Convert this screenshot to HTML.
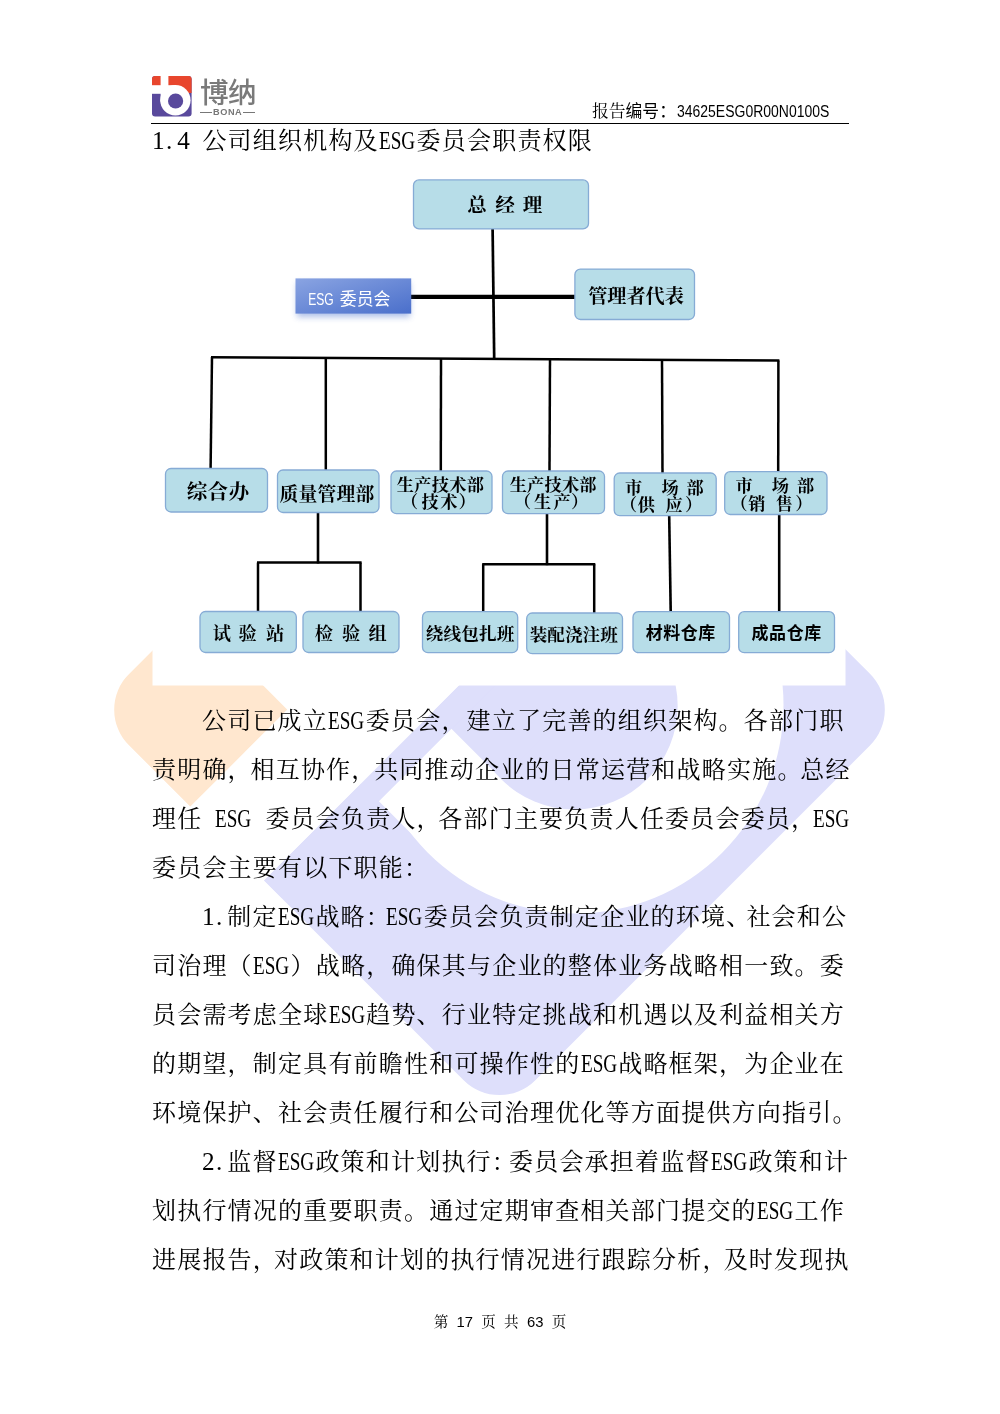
<!DOCTYPE html>
<html lang="zh-CN"><head><meta charset="utf-8"><title>ESG报告 第17页</title>
<style>
html,body{margin:0;padding:0;background:#fff;}
body{width:1000px;height:1414px;position:relative;overflow:hidden;font-family:"Liberation Serif","Noto Serif CJK SC",serif;color:#000;}
svg{position:absolute;left:0;top:0;}
.wm{z-index:0;}
.chart{z-index:1;will-change:transform;}
.chart text.bs{font-family:"Liberation Serif","Noto Serif CJK SC",serif;font-weight:700;}
.chart text.bh{font-family:"Liberation Sans","Noto Sans CJK SC",sans-serif;font-weight:700;}
.chart text.es{font-family:"Liberation Sans","Noto Sans CJK SC",sans-serif;font-weight:400;}
.ln{position:absolute;z-index:2;height:40px;line-height:40px;font-size:24.0px;white-space:nowrap;font-weight:400;will-change:transform;}
.ln .l,.ln .sp{display:inline-block;letter-spacing:0;height:40px;vertical-align:top;white-space:pre;font-size:25.2px;}
.ln .l b{display:inline-block;font-weight:400;transform-origin:0 50%;white-space:nowrap;margin-left:0.2px;}
.ln .d i{display:inline-block;font-style:normal;text-align:center;}
.ln .d i.dot{text-align:left;text-indent:1.5px;}
.ln .p{margin-right:var(--pm);}
.logo{left:152px;top:76.3px;z-index:2;}
.brand{position:absolute;left:199.8px;top:74.6px;width:56px;height:36px;line-height:36px;font-family:"Liberation Sans","Noto Sans CJK SC",sans-serif;font-weight:500;font-size:28.6px;color:#7a7a7a;white-space:nowrap;letter-spacing:-0.5px;z-index:2;will-change:transform;}
.bona{position:absolute;left:200.2px;top:106.6px;width:54.8px;height:11px;line-height:11px;font-family:"Liberation Sans",sans-serif;font-weight:700;font-size:9.2px;letter-spacing:0.55px;text-indent:0.55px;color:#777;text-align:center;white-space:nowrap;z-index:2;will-change:transform;}
.bona:before,.bona:after{content:"";position:absolute;top:5.1px;width:11.8px;height:1.1px;background:#777;}
.bona:before{left:0;} .bona:after{right:0;}
.rpt{position:absolute;left:592px;top:100.4px;height:24px;line-height:24px;font-size:16.8px;white-space:nowrap;z-index:2;will-change:transform;}
.rpt .h{font-family:"Liberation Sans","Noto Sans CJK SC",sans-serif;}
.rpt .n{display:inline-block;font-family:"Liberation Sans","Noto Sans CJK SC",sans-serif;transform-origin:0 50%;}
.hline{position:absolute;left:151px;top:122.6px;width:697.5px;height:1.3px;background:#000;z-index:2;}
.foot{position:absolute;left:400px;width:200px;top:1311px;height:22px;line-height:22px;text-align:center;font-size:14.6px;white-space:pre;z-index:2;will-change:transform;word-spacing:4.6px;}
.foot span{font-family:"Liberation Sans",sans-serif;font-size:14.8px;}
</style></head>
<body>
<svg class="wm" width="1000" height="1414" viewBox="0 0 1000 1414">
<defs><clipPath id="sq"><rect x="-287.3" y="-287.3" width="574.6" height="574.6" rx="50.7" ry="50.7"/></clipPath></defs>
<g transform="translate(499.5 709.7) rotate(-45)">
<rect x="-287.3" y="-287.3" width="574.6" height="574.6" rx="50.7" ry="50.7" fill="#dedffb"/>
<rect x="-317.3" y="-317.3" width="269.8" height="271.6" fill="#fff"/>
<rect x="-150.0" y="-317.3" width="102.5" height="367.4" fill="#fff"/>
<rect x="-287.3" y="-287.3" width="137.3" height="137.3" fill="#ffe7cf" clip-path="url(#sq)"/>
<rect x="-317.3" y="-150.0" width="374.0" height="104.3" fill="#fff"/>
<circle cx="56.7" cy="50.1" r="208.5" fill="#fff"/>
<circle cx="55.5" cy="50.1" r="103.5" fill="#dedffb"/>
<rect x="-47.5" y="-45.7" width="103.0" height="95.8" fill="#dedffb"/>
<rect x="-287.3" y="-45.7" width="342.8" height="25.2" fill="#dedffb" clip-path="url(#sq)"/>
</g>
<rect x="152.5" y="150" width="693" height="535.5" fill="#fff"/>
</svg>
<svg class="chart" width="1000" height="1414" viewBox="0 0 1000 1414">
<defs><linearGradient id="eg" x1="0" y1="0" x2="1" y2="1"><stop offset="0" stop-color="#8aa4e2"/><stop offset="1" stop-color="#4a6fcb"/></linearGradient>
<filter id="sh" x="-20%" y="-40%" width="140%" height="200%"><feGaussianBlur stdDeviation="3.2"/></filter></defs>
<line x1="492.6" y1="229" x2="494.2" y2="358.5" stroke="#000" stroke-width="2.7"/>
<line x1="411" y1="296.8" x2="575" y2="296.8" stroke="#000" stroke-width="4.2"/>
<line x1="211" y1="357.2" x2="779.4" y2="360.6" stroke="#000" stroke-width="2.5"/>
<line x1="212" y1="357" x2="210.6" y2="468.5" stroke="#000" stroke-width="2.5"/>
<line x1="325.8" y1="357.6" x2="325.8" y2="470" stroke="#000" stroke-width="2.5"/>
<line x1="441" y1="358.3" x2="440.8" y2="471" stroke="#000" stroke-width="2.5"/>
<line x1="550" y1="359" x2="549.5" y2="471" stroke="#000" stroke-width="2.5"/>
<line x1="662" y1="359.8" x2="662.5" y2="473" stroke="#000" stroke-width="2.5"/>
<line x1="778.4" y1="360.4" x2="778.2" y2="472" stroke="#000" stroke-width="2.5"/>
<line x1="318" y1="513" x2="318" y2="563.5" stroke="#000" stroke-width="2.6"/>
<line x1="257" y1="562.6" x2="361.6" y2="562.6" stroke="#000" stroke-width="2.5"/>
<line x1="258" y1="562.6" x2="258" y2="611.5" stroke="#000" stroke-width="2.5"/>
<line x1="360.5" y1="562.6" x2="360.5" y2="611.5" stroke="#000" stroke-width="2.5"/>
<line x1="547" y1="514" x2="547" y2="565.2" stroke="#000" stroke-width="2.6"/>
<line x1="482.2" y1="564.2" x2="595.3" y2="564.2" stroke="#000" stroke-width="2.5"/>
<line x1="483.2" y1="564.2" x2="483.2" y2="611.5" stroke="#000" stroke-width="2.5"/>
<line x1="594.2" y1="564.2" x2="594.2" y2="613" stroke="#000" stroke-width="2.5"/>
<line x1="669.2" y1="516" x2="670.7" y2="611.5" stroke="#000" stroke-width="2.6"/>
<line x1="779.2" y1="515" x2="779.2" y2="611.5" stroke="#000" stroke-width="2.6"/>
<rect x="413.5" y="179.9" width="175.0" height="49.0" rx="5.5" fill="#b7dde8" stroke="#86abd5" stroke-width="1.3"/>
<rect x="574.9" y="269.1" width="119.6" height="50.4" rx="5.5" fill="#b7dde8" stroke="#86abd5" stroke-width="1.3"/>
<rect x="165.5" y="468.5" width="102.0" height="43.5" rx="5.5" fill="#b7dde8" stroke="#86abd5" stroke-width="1.3"/>
<rect x="277.5" y="470.0" width="101.5" height="42.5" rx="5.5" fill="#b7dde8" stroke="#86abd5" stroke-width="1.3"/>
<rect x="391.0" y="471.0" width="101.0" height="42.7" rx="5.5" fill="#b7dde8" stroke="#86abd5" stroke-width="1.3"/>
<rect x="502.5" y="471.0" width="102.0" height="42.7" rx="5.5" fill="#b7dde8" stroke="#86abd5" stroke-width="1.3"/>
<rect x="614.2" y="473.0" width="102.0" height="42.7" rx="5.5" fill="#b7dde8" stroke="#86abd5" stroke-width="1.3"/>
<rect x="724.7" y="471.7" width="102.3" height="42.8" rx="5.5" fill="#b7dde8" stroke="#86abd5" stroke-width="1.3"/>
<rect x="200.0" y="611.5" width="96.3" height="41.0" rx="5.5" fill="#b7dde8" stroke="#86abd5" stroke-width="1.3"/>
<rect x="303.0" y="611.5" width="96.0" height="41.0" rx="5.5" fill="#b7dde8" stroke="#86abd5" stroke-width="1.3"/>
<rect x="422.5" y="611.7" width="95.2" height="41.0" rx="5.5" fill="#b7dde8" stroke="#86abd5" stroke-width="1.3"/>
<rect x="526.7" y="613.0" width="95.8" height="40.7" rx="5.5" fill="#b7dde8" stroke="#86abd5" stroke-width="1.3"/>
<rect x="633.0" y="611.7" width="96.5" height="41.0" rx="5.5" fill="#b7dde8" stroke="#86abd5" stroke-width="1.3"/>
<rect x="738.7" y="611.7" width="95.8" height="41.0" rx="5.5" fill="#b7dde8" stroke="#86abd5" stroke-width="1.3"/>
<text class="bs" x="477.0 491.0 505.0 518.8 532.5" y="205.2" font-size="19.6" text-anchor="middle" dominant-baseline="central" xml:space="preserve">总 经 理</text>
<text class="bs" x="597.8 616.9 636.0 655.2 674.3" y="296.2" font-size="19.2" text-anchor="middle" dominant-baseline="central" xml:space="preserve">管理者代表</text>
<text class="bs" x="197.0 217.9 238.8" y="492.2" font-size="20.6" text-anchor="middle" dominant-baseline="central" xml:space="preserve">综合办</text>
<text class="bs" x="289.0 307.9 326.9 345.9 364.8" y="494.2" font-size="18.8" text-anchor="middle" dominant-baseline="central" xml:space="preserve">质量管理部</text>
<text class="bs" x="405.3 422.8 440.4 457.9 475.4" y="485.7" font-size="17.2" text-anchor="middle" dominant-baseline="central" xml:space="preserve">生产技术部</text>
<text class="bs" x="409.5 430.0 448.8 467.0" y="502.2" font-size="17.2" text-anchor="middle" dominant-baseline="central" xml:space="preserve">（技术）</text>
<text class="bs" x="518.3 535.7 553.1 570.5 587.9" y="485.7" font-size="17.2" text-anchor="middle" dominant-baseline="central" xml:space="preserve">生产技术部</text>
<text class="bs" x="522.5 542.5 562.0 579.5" y="502.2" font-size="17.2" text-anchor="middle" dominant-baseline="central" xml:space="preserve">（生产）</text>
<text class="bs" x="633.7 651.9 670.0 682.6 695.2" y="488.2" font-size="17.2" text-anchor="middle" dominant-baseline="central" xml:space="preserve">市 场 部</text>
<text class="bs" x="628.7 646.4 660.2 674.0 693.5" y="505.5" font-size="17.2" text-anchor="middle" dominant-baseline="central" xml:space="preserve">（供 应）</text>
<text class="bs" x="744.2 762.3 780.4 793.0 805.7" y="486.5" font-size="17.2" text-anchor="middle" dominant-baseline="central" xml:space="preserve">市 场 部</text>
<text class="bs" x="739.1 756.8 770.6 784.4 803.8" y="504.2" font-size="17.2" text-anchor="middle" dominant-baseline="central" xml:space="preserve">（销 售）</text>
<text class="bs" x="221.8 234.7 247.5 261.2 275.0" y="633.7" font-size="18.2" text-anchor="middle" dominant-baseline="central" xml:space="preserve">试 验 站</text>
<text class="bs" x="323.8 337.5 351.2 364.4 377.5" y="633.7" font-size="18.2" text-anchor="middle" dominant-baseline="central" xml:space="preserve">检 验 组</text>
<text class="bs" x="434.5 452.2 470.0 487.8 505.5" y="633.7" font-size="17.6" text-anchor="middle" dominant-baseline="central" xml:space="preserve">绕线包扎班</text>
<text class="bs" x="538.5 556.1 573.8 591.4 609.0" y="634.9" font-size="17.6" text-anchor="middle" dominant-baseline="central" xml:space="preserve">装配浇注班</text>
<text class="bh" x="654.2 671.7 689.3 706.8" y="633.7" font-size="17.0" text-anchor="middle" dominant-baseline="central" xml:space="preserve">材料仓库</text>
<text class="bh" x="759.9 777.5 795.2 812.8" y="633.7" font-size="17.0" text-anchor="middle" dominant-baseline="central" xml:space="preserve">成品仓库</text>
<rect x="297" y="283" width="113" height="34" fill="#4a6fcb" opacity="0.45" filter="url(#sh)"/>
<rect x="295.5" y="278.4" width="115.7" height="35.2" fill="url(#eg)"/>
<text class="es" transform="translate(308.2 299.8) scale(0.76 1)" x="0" y="0" font-size="15.9" dominant-baseline="central" fill="#fff">ESG</text>
<text class="es" x="339.8" y="299.4" font-size="16.9" font-weight="300" dominant-baseline="central" fill="#fff">委员会</text>
</svg>
<svg class="logo" width="40" height="41" viewBox="0 0 40 41">
<defs><clipPath id="lg"><rect x="0" y="0" width="39.6" height="40.4" rx="3.2"/></clipPath></defs>
<g clip-path="url(#lg)">
<rect x="0" y="0" width="40" height="41" fill="#59499c"/>
<rect x="0" y="0" width="40" height="17" fill="#e8462d"/>
<rect x="8.6" y="0" width="7.8" height="26" fill="#fff"/>
<rect x="0" y="9.2" width="24" height="8.6" fill="#fff"/>
<circle cx="23.4" cy="24.2" r="15.2" fill="#fff"/>
<circle cx="23.6" cy="25" r="7.6" fill="#59499c"/>
</g></svg>
<div class="brand">博纳</div>
<div class="bona">BONA</div>
<div class="rpt">报告<span class="h">编号：</span><span class="n" style="transform:scaleX(0.833);margin-left:1px">34625ESG0R00N0100S</span></div>
<div class="hline"></div>
<div class="ln h1" id="L0" style="top:121.3px;left:151.60px;letter-spacing:1.200px;"><span class="l d" style="width:37.80px"><i style="width:33.333%">1</i><i class="dot" style="width:33.333%">.</i><i style="width:33.333%">4</i></span><span class="sp" style="width:12.60px"> </span>公司组织机构及<span class="l" style="width:37.80px"><b style="transform:scaleX(0.7605)">ESG</b></span>委员会职责权限</div>
<div class="ln" id="L1" style="top:700.5px;left:202.00px;letter-spacing:1.200px;">公司已成立<span class="l" style="width:37.80px"><b style="transform:scaleX(0.7605)">ESG</b></span>委员会，建立了完善的组织架构。各部门职</div>
<div class="ln" id="L2" style="top:749.5px;left:151.60px;letter-spacing:1.200px;--pm:-2.33px;">责明确<span class="p">，</span>相互协作<span class="p">，</span>共同推动企业的日常运营和战略实施<span class="p">。</span>总经</div>
<div class="ln" id="L3" style="top:798.5px;left:151.60px;letter-spacing:1.200px;--pm:-3.50px;">理任<span class="sp" style="width:12.60px"> </span><span class="l" style="width:37.80px"><b style="transform:scaleX(0.7605)">ESG</b></span><span class="sp" style="width:12.60px"> </span>委员会负责人<span class="p">，</span>各部门主要负责人任委员会委员<span class="p">，</span><span class="l" style="width:37.80px"><b style="transform:scaleX(0.7605)">ESG</b></span></div>
<div class="ln" id="L4" style="top:847.5px;left:151.60px;letter-spacing:1.200px;">委员会主要有以下职能：</div>
<div class="ln" id="L5" style="top:896.5px;left:202.00px;letter-spacing:1.200px;--pm:-5.00px;"><span class="l d" style="width:25.20px"><i style="width:50.000%">1</i><i class="dot" style="width:50.000%">.</i></span>制定<span class="l" style="width:37.80px"><b style="transform:scaleX(0.7605)">ESG</b></span>战略<span class="p">：</span><span class="l" style="width:37.80px"><b style="transform:scaleX(0.7605)">ESG</b></span>委员会负责制定企业的环境<span class="p">、</span>社会和公</div>
<div class="ln" id="L6" style="top:945.5px;left:151.60px;letter-spacing:1.200px;">司治理（<span class="l" style="width:37.80px"><b style="transform:scaleX(0.7605)">ESG</b></span>）战略，确保其与企业的整体业务战略相一致。委</div>
<div class="ln" id="L7" style="top:994.5px;left:151.60px;letter-spacing:1.200px;">员会需考虑全球<span class="l" style="width:37.80px"><b style="transform:scaleX(0.7605)">ESG</b></span>趋势、行业特定挑战和机遇以及利益相关方</div>
<div class="ln" id="L8" style="top:1043.5px;left:151.60px;letter-spacing:1.200px;">的期望，制定具有前瞻性和可操作性的<span class="l" style="width:37.80px"><b style="transform:scaleX(0.7605)">ESG</b></span>战略框架，为企业在</div>
<div class="ln" id="L9" style="top:1092.5px;left:151.60px;letter-spacing:1.200px;">环境保护、社会责任履行和公司治理优化等方面提供方向指引。</div>
<div class="ln" id="L10" style="top:1141.5px;left:202.00px;letter-spacing:1.200px;--pm:-8.00px;"><span class="l d" style="width:25.20px"><i style="width:50.000%">2</i><i class="dot" style="width:50.000%">.</i></span>监督<span class="l" style="width:37.80px"><b style="transform:scaleX(0.7605)">ESG</b></span>政策和计划执行<span class="p">：</span>委员会承担着监督<span class="l" style="width:37.80px"><b style="transform:scaleX(0.7605)">ESG</b></span>政策和计</div>
<div class="ln" id="L11" style="top:1190.5px;left:151.60px;letter-spacing:1.200px;">划执行情况的重要职责。通过定期审查相关部门提交的<span class="l" style="width:37.80px"><b style="transform:scaleX(0.7605)">ESG</b></span>工作</div>
<div class="ln" id="L12" style="top:1239.5px;left:151.60px;letter-spacing:1.200px;--pm:-4.00px;">进展报告<span class="p">，</span>对政策和计划的执行情况进行跟踪分析<span class="p">，</span>及时发现执</div>
<div class="foot">第 <span>17</span> 页 共 <span>63</span> 页</div>
</body></html>
